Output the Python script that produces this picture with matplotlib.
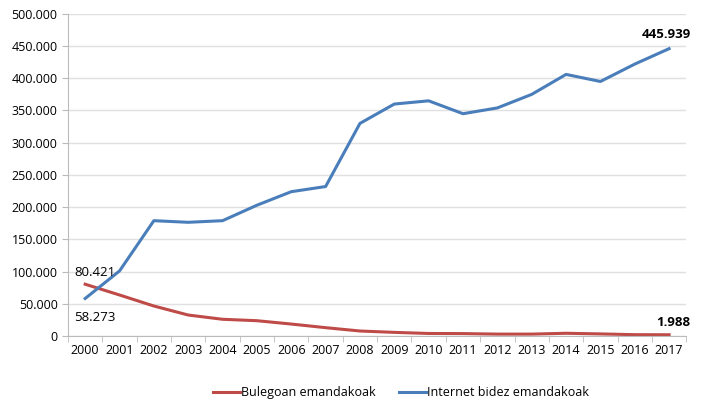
import matplotlib.pyplot as plt
from matplotlib.ticker import FuncFormatter

years = [str(y) for y in range(2000, 2018)]
bulegoan = [80421, 63700, 46600, 32600, 26000, 23800, 18600, 13000, 7800, 5700,
            4000, 3800, 3000, 3000, 4300, 3300, 2100, 1988]
internet = [58273, 101000, 179000, 176500, 179000, 203000, 224000, 232000, 330000, 360000,
            365000, 345000, 354000, 375000, 406000, 395000, 422000, 445939]

red = '#BE4B48'
blue = '#4A7EBB'
plt.rcParams['font.family'] = ['Open Sans', 'DejaVu Sans']

fig = plt.figure(figsize=(7.01, 4.19), dpi=100)
ax = fig.add_axes([0.097, 0.198, 0.882, 0.769])

x = list(range(len(years)))
ax.plot(x, bulegoan, color=red, lw=2.2, label='Bulegoan emandakoak')
ax.plot(x, internet, color=blue, lw=2.2, label='Internet bidez emandakoak')

ax.set_xlim(-0.5, len(years) - 0.5)
ax.set_ylim(0, 500000)
ax.set_yticks(range(0, 500001, 50000))
ax.yaxis.set_major_formatter(FuncFormatter(lambda v, p: '0' if v == 0 else f'{int(v):,}'.replace(',', '.')))
ax.set_xticks(x)
ax.set_xticklabels(years)
ax.set_xticks([i - 0.5 for i in range(len(years) + 1)], minor=True)
ax.tick_params(axis='x', which='major', length=0, labelsize=9, pad=6)
ax.tick_params(axis='x', which='minor', length=4, color='#BBBBBB')
ax.tick_params(axis='y', length=4, color='#BBBBBB', labelsize=9)
ax.grid(axis='y', color='#E0E0E0', lw=1)
ax.set_axisbelow(True)
for s in ['top', 'right']:
    ax.spines[s].set_visible(False)
ax.spines['left'].set_color('#BBBBBB')
ax.spines['bottom'].set_color('#BBBBBB')

def fmt(v):
    return f'{v:,}'.replace(',', '.')

ax.annotate(fmt(bulegoan[0]), (0, bulegoan[0]), xytext=(-8, 6), textcoords='offset points', fontsize=9.5)
ax.annotate(fmt(internet[0]), (0, internet[0]), xytext=(-8, -16), textcoords='offset points', fontsize=9.5)
ax.annotate(fmt(internet[-1]), (17, internet[-1]), xytext=(-2, 8), textcoords='offset points',
            fontsize=9.5, fontweight='bold', ha='center')
ax.annotate(fmt(bulegoan[-1]), (17, bulegoan[-1]), xytext=(3, 6), textcoords='offset points',
            fontsize=9.5, fontweight='bold', ha='center')

fig.legend(loc='lower center', bbox_to_anchor=(0.572, 0.02), ncol=2, frameon=False, fontsize=9,
           handlelength=2.2, columnspacing=1.8, handletextpad=0.1)

fig.savefig('out.png', dpi=100)
